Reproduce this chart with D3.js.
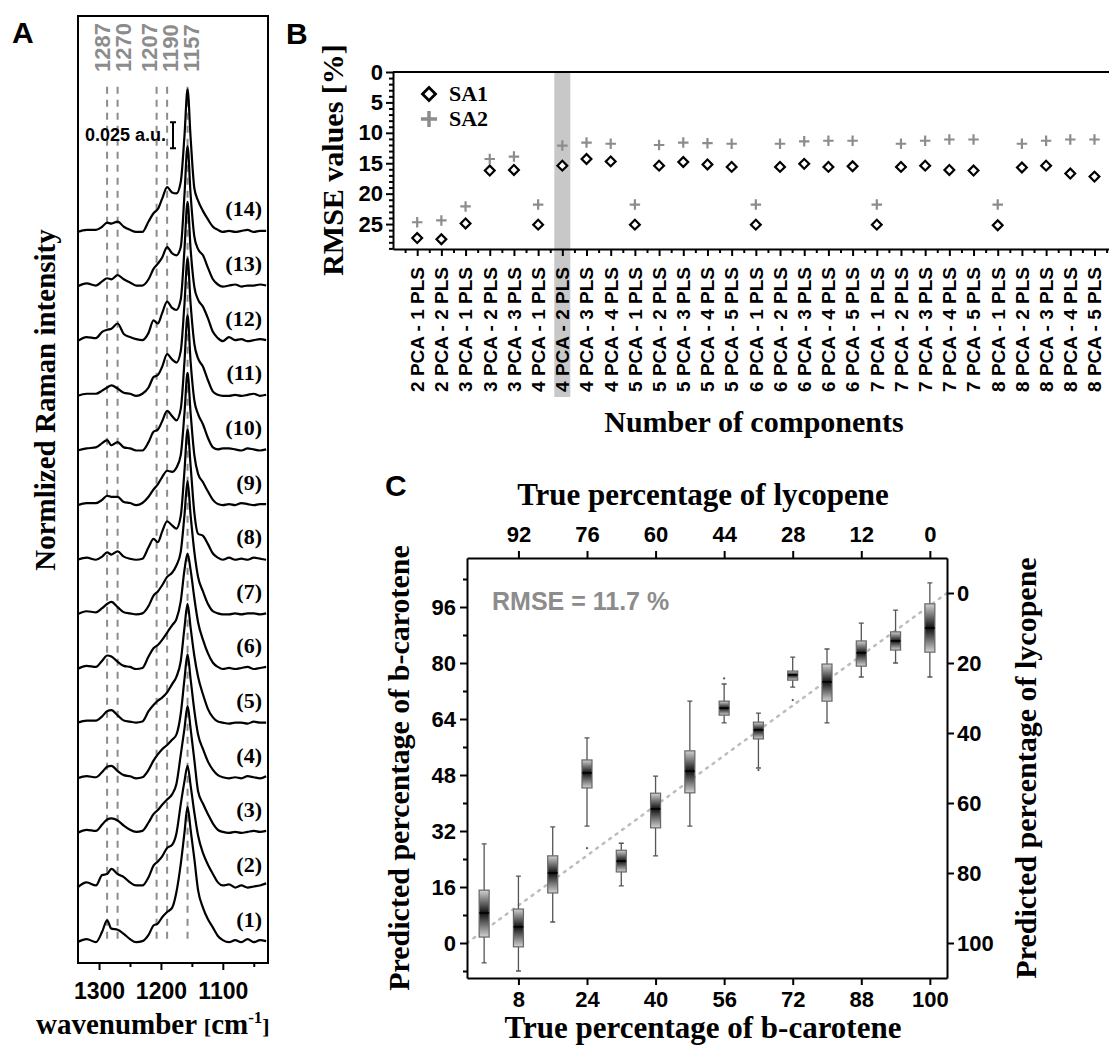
<!DOCTYPE html>
<html><head><meta charset="utf-8">
<script src="https://cdn.jsdelivr.net/npm/d3@7"></script>
<style>body{margin:0;background:#fff}</style>
</head><body>
<svg id="fig" width="1109" height="1046"></svg>
<script>
// ================= Panel A data (intensity in 10^-3 a.u., above each spectrum's own baseline) =================
const wavenumbers = [1335,1320,1305,1295,1287,1280,1270,1260,1250,1240,1230,1220,1212,1205,1198,1190,1182,1175,1168,1162,1157,1152,1146,1140,1132,1124,1116,1108,1100,1090,1080,1070,1060,1050,1040,1030];
const spectrum1  = [0,3,0,10,21,13,12,8,3,0,1,7,16,18,24,29,33,48,75,105,130,108,80,50,33,22,14,6,2,0,2,0,3,0,2,1];
const spectrum2  = [0,5,2,12,13,18,13,10,5,2,2,10,21,25,30,38,41,52,80,102,117,98,72,50,33,22,13,5,2,3,0,2,0,1,2,4];
const spectrum3  = [0,3,2,8,13,14,12,7,3,1,2,10,18,22,27,32,37,47,75,100,122,100,70,40,28,18,9,3,1,0,1,0,1,2,1,2];
const spectrum4  = [0,2,1,6,11,12,7,3,2,0,1,8,17,23,28,32,37,42,62,95,119,95,65,42,28,16,8,3,1,0,1,0,2,1,0,2];
const spectrum5  = [1,3,3,7,12,13,8,3,2,1,2,12,18,22,25,30,38,45,60,92,115,92,65,45,28,14,6,2,1,0,1,1,0,2,1,1];
const spectrum6  = [0,3,2,8,13,12,7,3,2,0,1,12,20,23,28,35,42,48,65,95,111,95,68,45,28,15,6,2,0,1,0,1,2,0,1,2];
const spectrum7  = [0,3,2,6,10,12,7,2,1,0,1,8,18,22,28,36,40,47,60,95,128,95,60,36,22,10,3,1,0,0,1,0,1,1,0,1];
const spectrum8  = [0,2,0,3,7,5,8,3,1,0,1,12,20,17,27,37,33,30,42,85,125,90,45,25,23,15,6,2,0,2,0,1,0,2,1,0];
const spectrum9  = [0,2,2,5,9,8,8,3,2,0,2,8,15,20,27,33,32,36,48,88,127,88,48,30,22,13,5,1,0,1,0,2,1,0,1,1];
const spectrum10 = [0,2,3,7,10,5,8,3,2,0,0,8,18,20,28,38,33,29,40,85,130,85,48,35,25,12,3,1,2,2,1,0,2,1,0,1];
const spectrum11 = [0,2,2,5,8,10,7,3,2,0,2,8,18,20,28,40,35,32,43,88,132,88,50,36,28,15,4,1,0,0,1,0,1,2,0,1];
const spectrum12 = [0,4,3,9,11,12,17,7,4,2,1,8,20,17,27,38,32,30,40,88,134,88,52,40,33,22,9,3,0,4,1,2,0,1,2,1];
const spectrum13 = [0,3,1,5,8,7,11,7,4,1,1,7,17,22,28,38,32,30,38,88,135,88,48,36,30,18,7,2,0,1,2,0,1,1,2,1];
const spectrum14 = [0,2,2,5,9,8,10,5,2,0,0,10,18,22,32,43,38,37,48,92,137,90,42,30,20,12,5,2,0,1,0,1,2,0,1,1];
const spectrumLabels = ["(1)","(2)","(3)","(4)","(5)","(6)","(7)","(8)","(9)","(10)","(11)","(12)","(13)","(14)"];
const stackOffset = 52.5;          // vertical offset between spectra (10^-3 a.u.)
const peakPositions = [1287, 1270, 1207, 1190, 1157];
const peakLineExtent = [2, 822];   // 10^-3 a.u. (stacked scale)
const scaleBar = {base: 763, value: 25, label: "0.025 a.u."};
const wnTicks = [1300, 1200, 1100];
const wnMinorTicks = [1250, 1150, 1050];

// ================= Panel B data =================
const componentLabels = ["2 PCA - 1 PLS","2 PCA - 2 PLS","3 PCA - 1 PLS","3 PCA - 2 PLS","3 PCA - 3 PLS","4 PCA - 1 PLS","4 PCA - 2 PLS","4 PCA - 3 PLS","4 PCA - 4 PLS","5 PCA - 1 PLS","5 PCA - 2 PLS","5 PCA - 3 PLS","5 PCA - 4 PLS","5 PCA - 5 PLS","6 PCA - 1 PLS","6 PCA - 2 PLS","6 PCA - 3 PLS","6 PCA - 4 PLS","6 PCA - 5 PLS","7 PCA - 1 PLS","7 PCA - 2 PLS","7 PCA - 3 PLS","7 PCA - 4 PLS","7 PCA - 5 PLS","8 PCA - 1 PLS","8 PCA - 2 PLS","8 PCA - 3 PLS","8 PCA - 4 PLS","8 PCA - 5 PLS"];
const rmseSA1 = [27.3,27.5,24.9,16.2,16.1,25.1,15.4,14.3,14.7,25.1,15.4,14.8,15.2,15.6,25.1,15.6,15.1,15.6,15.5,25.1,15.6,15.4,16.1,16.2,25.2,15.7,15.4,16.7,17.2];
const rmseSA2 = [24.7,24.4,22.1,14.3,13.9,21.8,12.1,11.6,11.8,21.8,12.0,11.6,11.7,11.8,21.8,11.8,11.4,11.3,11.3,21.8,11.8,11.3,11.1,11.1,21.8,11.8,11.3,11.1,11.1];
const highlightedIndex = 6;
const rmseTicks = [0,5,10,15,20,25];
const seriesNames = ["SA1","SA2"];

// ================= Panel C data =================
const trueBetaCarotene = [0,8,16,24,32,40,48,56,64,72,80,88,96,100];
const trueLycopene     = [100,92,84,76,68,60,52,44,36,28,20,12,4,0];
const whiskerLow  = [-5.7,-8.0, 6.0,33.4,16.3,24.9,33.4,62.9,50.0,73.1,62.9,76.0,80.0, 76.0];
const quartile1   = [ 1.7,-1.1,14.3,44.3,20.3,32.9,42.9,65.1,58.3,75.1,69.1,79.1,83.7, 83.1];
const medianPred  = [ 8.6, 4.6,20.0,48.6,23.4,38.3,49.1,67.1,60.9,76.6,74.6,82.9,86.3, 90.0];
const quartile3   = [15.1, 9.7,24.9,52.3,26.5,42.8,54.9,69.1,63.1,77.7,79.7,86.3,88.9, 96.9];
const whiskerHigh = [28.3,19.1,33.2,58.6,28.5,47.7,69.1,74.0,65.7,81.7,84.0,91.4,95.1,102.9];
const outlierIndex = [3, 7, 8, 9];
const outlierValue = [27.1, 75.6, 49.4, 69.4];
const betaTicks = [0,16,32,48,64,80,96];
const betaMinorTicks = [-8,8,24,40,56,72,88,104];
const lycopeneTicks = [0,20,40,60,80,100];
const labelledBoxes = [1,3,5,7,9,11,13];
const referenceLine = [0, 100];
const rmseText = "RMSE = 11.7 %";

// ================= drawing =================
const SANS = "'Liberation Sans', Arial, Helvetica, sans-serif";
const SERIF = "'Liberation Serif', 'Times New Roman', Times, serif";
const GREY = "#8c8c8c";
const svg = d3.select("#fig");

function styleAxis(g, size, removeDomain) {
  g.attr("font-family", null).attr("font-size", null);
  if (removeDomain) g.select(".domain").remove();
  g.select(".domain").attr("stroke", "#000").attr("stroke-width", 2);
  g.selectAll(".tick line").attr("stroke", "#000").attr("stroke-width", 2);
  g.selectAll("text").attr("font-family", SANS).attr("font-weight", "bold")
    .attr("font-size", size).attr("fill", "#000");
  return g;
}
function label(txt, x, y, size, opts = {}) {
  const t = svg.append("text").attr("x", x).attr("y", y).text(txt)
    .attr("font-family", opts.family || SERIF).attr("font-weight", "bold")
    .attr("font-size", size).attr("fill", opts.fill || "#000")
    .attr("text-anchor", opts.anchor || "middle");
  if (opts.rotate) t.attr("transform", `rotate(${opts.rotate},${x},${y})`);
  return t;
}

// ---------- Panel A ----------
const A = {l: 78, t: 16, r: 268, b: 963};
const xA = d3.scaleLinear().domain([1334, 1027]).range([A.l, A.r]);
const yA = d3.scaleLinear().domain([-20, 890]).range([A.b, A.t]);
const spectra = [spectrum1,spectrum2,spectrum3,spectrum4,spectrum5,spectrum6,spectrum7,spectrum8,spectrum9,spectrum10,spectrum11,spectrum12,spectrum13,spectrum14];

const gA = svg.append("g");
gA.selectAll("line.peak").data(peakPositions).join("line")
  .attr("x1", d => xA(d)).attr("x2", d => xA(d))
  .attr("y1", yA(peakLineExtent[1])).attr("y2", yA(peakLineExtent[0]))
  .attr("stroke", GREY).attr("stroke-width", 2).attr("stroke-dasharray", "7,6");

// peak labels spread apart so they don't overlap
const lab = peakPositions.map(p => xA(p));
for (let it = 0; it < 200; it++) {
  for (let i = 0; i < lab.length - 1; i++) {
    const gap = lab[i + 1] - lab[i];
    if (gap < 21) { const d = (21 - gap) / 2; lab[i] -= d; lab[i + 1] += d; }
  }
}
gA.selectAll("text.peak").data(peakPositions).join("text")
  .attr("transform", (d, i) => `translate(${lab[i]},72) rotate(-90)`)
  .attr("dy", "0.36em").text(d => d)
  .attr("font-family", SANS).attr("font-weight", "bold").attr("font-size", 22).attr("fill", GREY);

const lineA = d3.line().curve(d3.curveMonotoneX);
gA.selectAll("path.spec").data(spectra).join("path")
  .attr("d", (s, k) => lineA(s.map((v, j) => [xA(wavenumbers[j]), yA(v + k * stackOffset)])))
  .attr("fill", "none").attr("stroke", "#000").attr("stroke-width", 2.2).attr("stroke-linejoin", "round");

gA.selectAll("text.spec").data(spectrumLabels).join("text")
  .attr("x", A.r - 6).attr("y", (d, k) => yA(k * stackOffset + 15))
  .attr("text-anchor", "end").text(d => d)
  .attr("font-family", SERIF).attr("font-weight", "bold").attr("font-size", 22);

const sbX = 173;
const sbTop = yA(scaleBar.base + scaleBar.value), sbBot = yA(scaleBar.base);
gA.append("path").attr("d", `M${sbX},${sbTop}V${sbBot}M${sbX-3},${sbTop}H${sbX+3}M${sbX-3},${sbBot}H${sbX+3}`)
  .attr("stroke", "#000").attr("stroke-width", 2).attr("fill", "none");
gA.append("text").attr("x", sbX - 7).attr("y", (sbTop + sbBot) / 2 + 6).attr("text-anchor", "end")
  .text(scaleBar.label).attr("font-family", SANS).attr("font-weight", "bold").attr("font-size", 18);

gA.append("rect").attr("x", A.l).attr("y", A.t).attr("width", A.r - A.l).attr("height", A.b - A.t)
  .attr("fill", "none").attr("stroke", "#000").attr("stroke-width", 2);
const axA = svg.append("g").attr("transform", `translate(0,${A.b})`)
  .call(d3.axisBottom(xA).tickValues(wnTicks).tickSize(7).tickSizeOuter(0).tickFormat(d3.format("d")));
styleAxis(axA, 23, true);
axA.selectAll("text").attr("y", 36).attr("dy", null);
const axAm = svg.append("g").attr("transform", `translate(0,${A.b})`)
  .call(d3.axisBottom(xA).tickValues(wnMinorTicks).tickSize(4).tickFormat(""));
styleAxis(axAm, 10, true);

label("A", 12, 43, 30, {family: SANS, anchor: "start"});
label("Normlized Raman intensity", 55, 400, 29, {rotate: -90});
const wl = label("wavenumber ", 36, 1034, 29, {anchor: "start"});
wl.append("tspan").attr("font-size", 22).text("[");
wl.append("tspan").text("cm");
wl.append("tspan").attr("font-size", 17).attr("dy", -11).text("-1");
wl.append("tspan").attr("font-size", 22).attr("dy", 11).text("]");

// ---------- Panel B ----------
const B = {l: 393, t: 72, r: 1109, b: 249};
const xB = d3.scaleLinear().domain([-1, 28.6]).range([B.l, B.r]);
const yB = d3.scaleLinear().domain([0, 29.1]).range([B.t, B.b]);
const gB = svg.append("g");
gB.append("rect").attr("x", xB(highlightedIndex) - 8).attr("width", 16)
  .attr("y", B.t).attr("height", 397 - B.t).attr("fill", "#c8c8c8");
gB.append("line").attr("x1", B.l).attr("x2", B.r).attr("y1", B.t).attr("y2", B.t)
  .attr("stroke", "#000").attr("stroke-width", 2);

const axBy = svg.append("g").attr("transform", `translate(${B.l},0)`)
  .call(d3.axisLeft(yB).tickValues(rmseTicks).tickSize(7).tickSizeOuter(0).tickPadding(3));
styleAxis(axBy, 22);
const axBym = svg.append("g").attr("transform", `translate(${B.l},0)`)
  .call(d3.axisLeft(yB).tickValues(d3.range(1, 30).filter(v => v % 5)).tickSize(4).tickFormat(""));
styleAxis(axBym, 10, true);
const axBx = svg.append("g").attr("transform", `translate(0,${B.b})`)
  .call(d3.axisBottom(xB).tickValues(d3.range(componentLabels.length)).tickSize(7).tickSizeOuter(0).tickFormat(""));
styleAxis(axBx, 10);
const axBxm = svg.append("g").attr("transform", `translate(0,${B.b})`)
  .call(d3.axisBottom(xB).tickValues(d3.range(componentLabels.length + 1).map(i => i - 0.5)).tickSize(4).tickFormat(""));
styleAxis(axBxm, 10, true);

gB.selectAll("text.cl").data(componentLabels).join("text")
  .attr("transform", (d, i) => `translate(${xB(i)},${B.b + 18}) rotate(-90)`)
  .attr("dy", "0.36em").attr("text-anchor", "end").text(d => d)
  .attr("font-family", SANS).attr("font-weight", "bold").attr("font-size", 19);

const plusType = {draw(ctx, size) { const r = Math.sqrt(size) / 2; ctx.moveTo(-r, 0); ctx.lineTo(r, 0); ctx.moveTo(0, -r); ctx.lineTo(0, r); }};
gB.selectAll("path.sa2").data(rmseSA2).join("path")
  .attr("d", d3.symbol(plusType, 110)).attr("transform", (d, i) => `translate(${xB(i)},${yB(d)})`)
  .attr("stroke", GREY).attr("stroke-width", 2.2).attr("fill", "none");
gB.selectAll("path.sa1").data(rmseSA1).join("path")
  .attr("d", d3.symbol(d3.symbolSquare, 48)).attr("transform", (d, i) => `translate(${xB(i)},${yB(d)}) rotate(45)`)
  .attr("stroke", "#000").attr("stroke-width", 2.2).attr("fill", "#fff");

gB.append("path").attr("d", d3.symbol(d3.symbolSquare, 85)()).attr("transform", "translate(429,94) rotate(45)")
  .attr("stroke", "#000").attr("stroke-width", 2.8).attr("fill", "#fff");
gB.append("path").attr("d", d3.symbol(plusType, 260)()).attr("transform", "translate(429,119)")
  .attr("stroke", GREY).attr("stroke-width", 3.5).attr("fill", "none");
label(seriesNames[0], 449, 101, 22, {anchor: "start"});
label(seriesNames[1], 449, 126, 22, {anchor: "start"});

label("B", 286, 44, 30, {family: SANS, anchor: "start"});
label("RMSE values [%]", 343, 160, 30, {rotate: -90});
label("Number of components", 754, 432, 30);

// ---------- Panel C ----------
const C = {l: 467, t: 558, r: 947, b: 978};
const xC = d3.scaleLinear().domain([-0.5, 13.5]).range([C.l, C.r]);
const yC = d3.scaleLinear().domain([-10, 110]).range([C.b, C.t]);
const yCr = d3.scaleLinear().domain([-10, 110]).range([C.t, C.b]);
const gC = svg.append("g");

gC.append("line").attr("x1", C.l).attr("x2", C.r)
  .attr("y1", yC(referenceLine[0])).attr("y2", yC(referenceLine[1]))
  .attr("stroke", "#bdbdbd").attr("stroke-width", 2.5).attr("stroke-dasharray", "2,6").attr("stroke-linecap", "round");

const defs = svg.append("defs");
trueBetaCarotene.forEach((c, i) => {
  const frac = (yC(medianPred[i]) - yC(quartile3[i])) / (yC(quartile1[i]) - yC(quartile3[i]));
  const gr = defs.append("linearGradient").attr("id", "boxg" + i).attr("x1", 0).attr("y1", 0).attr("x2", 0).attr("y2", 1);
  gr.append("stop").attr("offset", 0).attr("stop-color", "#d2d2d2");
  gr.append("stop").attr("offset", Math.max(0.05, Math.min(0.95, frac))).attr("stop-color", "#111");
  gr.append("stop").attr("offset", 1).attr("stop-color", "#d2d2d2");
});
const bw = 10;
const boxes = gC.selectAll("g.box").data(trueBetaCarotene).join("g").attr("transform", (d, i) => `translate(${xC(i)},0)`);
boxes.append("path").attr("d", (d, i) =>
  `M0,${yC(whiskerHigh[i])}V${yC(quartile3[i])}M0,${yC(quartile1[i])}V${yC(whiskerLow[i])}` +
  `M-2.5,${yC(whiskerHigh[i])}H2.5M-2.5,${yC(whiskerLow[i])}H2.5`)
  .attr("stroke", "#555").attr("stroke-width", 1.3).attr("fill", "none");
boxes.append("rect").attr("x", -bw / 2).attr("width", bw)
  .attr("y", (d, i) => yC(quartile3[i])).attr("height", (d, i) => yC(quartile1[i]) - yC(quartile3[i]))
  .attr("fill", (d, i) => `url(#boxg${i})`).attr("stroke", "#666").attr("stroke-width", 1.2);
boxes.append("line").attr("x1", -bw / 2).attr("x2", bw / 2)
  .attr("y1", (d, i) => yC(medianPred[i])).attr("y2", (d, i) => yC(medianPred[i]))
  .attr("stroke", "#000").attr("stroke-width", 1.5);
gC.selectAll("circle.out").data(outlierIndex).join("circle")
  .attr("cx", d => xC(d)).attr("cy", (d, k) => yC(outlierValue[k])).attr("r", 1.1).attr("fill", "#555");

const axCl = svg.append("g").attr("transform", `translate(${C.l},0)`)
  .call(d3.axisLeft(yC).tickValues(betaTicks).tickSize(7).tickSizeOuter(0).tickPadding(4));
styleAxis(axCl, 22);
const axClm = svg.append("g").attr("transform", `translate(${C.l},0)`)
  .call(d3.axisLeft(yC).tickValues(betaMinorTicks).tickSize(4).tickFormat(""));
styleAxis(axClm, 10, true);
const axCr = svg.append("g").attr("transform", `translate(${C.r},0)`)
  .call(d3.axisRight(yCr).tickValues(lycopeneTicks).tickSize(7).tickSizeOuter(0).tickPadding(3));
styleAxis(axCr, 22);
const axCb = svg.append("g").attr("transform", `translate(0,${C.b})`)
  .call(d3.axisBottom(xC).tickValues(labelledBoxes).tickSize(7).tickSizeOuter(0).tickFormat(i => trueBetaCarotene[i]));
styleAxis(axCb, 22);
axCb.selectAll("text").attr("y", 29).attr("dy", null);
const axCt = svg.append("g").attr("transform", `translate(0,${C.t})`)
  .call(d3.axisTop(xC).tickValues(labelledBoxes).tickSize(7).tickSizeOuter(0).tickFormat(i => trueLycopene[i]));
styleAxis(axCt, 22);
axCt.selectAll("text").attr("y", -16).attr("dy", null);

label(rmseText, 492, 610, 25, {family: SANS, anchor: "start", fill: GREY});
label("C", 385, 496, 30, {family: SANS, anchor: "start"});
label("True percentage of lycopene", 703, 505, 31);
label("True percentage of b-carotene", 703, 1038, 31);
label("Predicted percentage of b-carotene", 409, 768, 30, {rotate: -90});
label("Predicted percentage of lycopene", 1036, 768, 30, {rotate: -90});
</script>
</body></html>
